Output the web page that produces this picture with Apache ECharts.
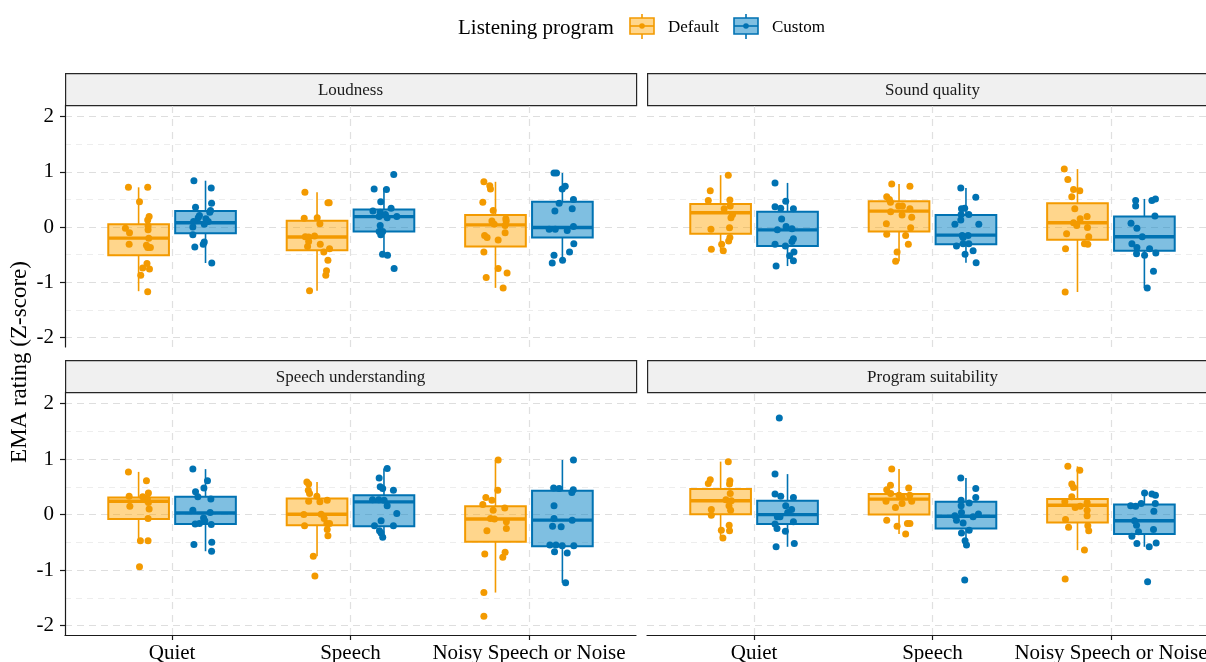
<!DOCTYPE html>
<html>
<head>
<meta charset="utf-8">
<script src="https://cdn.jsdelivr.net/npm/echarts@6/dist/echarts.min.js"></script>
<style>
  html, body { margin: 0; padding: 0; background: #ffffff; }
  #chart { width: 1206px; height: 662px; }
</style>
</head>
<body>
<div id="chart"></div>
<script>
// ---- data -------------------------------------------------------------
const categories = ['Quiet', 'Speech', 'Noisy Speech or Noise'];
const groups = ['Default', 'Custom'];
const facets = ['Loudness', 'Sound quality', 'Speech understanding', 'Program suitability'];
const yTicks = [-2, -1, 0, 1, 2];
const yMinorTicks = [-1.5, -0.5, 0.5, 1.5];

// box statistics per category: [lower whisker, Q1, median, Q3, upper whisker]
const loudnessDefaultBox = [[-1.16, -0.51, -0.20, 0.05, 0.72], [-1.15, -0.42, -0.18, 0.115, 0.63], [-1.10, -0.35, 0.04, 0.22, 0.82]];
const loudnessCustomBox = [[-0.65, -0.11, 0.08, 0.29, 0.84], [-0.51, -0.08, 0.19, 0.32, 0.71], [-0.65, -0.19, -0.006, 0.46, 0.98]];
const soundDefaultBox = [[-0.43, -0.12, 0.26, 0.42, 0.94], [-0.62, -0.08, 0.29, 0.47, 0.78], [-1.175, -0.23, 0.08, 0.43, 1.05]];
const soundCustomBox = [[-0.705, -0.34, -0.05, 0.28, 0.80], [-0.645, -0.31, -0.145, 0.22, 0.71], [-1.10, -0.43, -0.175, 0.19, 0.51]];
const speechDefaultBox = [[-0.47, -0.08, 0.24, 0.31, 0.77], [-0.75, -0.19, 0.006, 0.29, 0.59], [-1.405, -0.49, -0.08, 0.15, 0.985]];
const speechCustomBox = [[-0.66, -0.17, 0.03, 0.32, 0.82], [-0.41, -0.21, 0.23, 0.35, 0.83], [-1.23, -0.57, -0.10, 0.43, 0.985]];
const suitDefaultBox = [[-0.42, 0.006, 0.25, 0.46, 0.955], [-0.35, 0.0, 0.28, 0.37, 0.82], [-0.64, -0.14, 0.17, 0.28, 0.87]];
const suitCustomBox = [[-0.58, -0.17, 0.0, 0.25, 0.73], [-0.55, -0.25, -0.03, 0.23, 0.66], [-0.58, -0.35, -0.11, 0.18, 0.39]];

// individual ratings per category: [horizontal jitter (axis units), rating]
const loudnessDefaultPts = [
  [[-0.057,0.72],[0.051,0.72],[0.005,0.46],[0.059,0.19],[0.051,0.13],[0.053,0.02],[-0.074,-0.02],[-0.051,-0.10],[0.053,-0.05],[0.057,-0.20],[-0.053,-0.31],[0.044,-0.33],[0.051,-0.37],[0.066,-0.37],[0.047,-0.66],[0.023,-0.74],[0.061,-0.76],[0.012,-0.87],[0.051,-1.17]],
  [[-0.068,0.63],[0.061,0.44],[0.068,0.44],[-0.072,0.16],[0.001,0.17],[0.016,0.06],[-0.066,-0.175],[-0.047,-0.18],[-0.014,-0.16],[-0.047,-0.26],[0.018,-0.31],[-0.053,-0.35],[0.07,-0.39],[0.038,-0.45],[0.061,-0.60],[0.053,-0.79],[0.049,-0.87],[-0.042,-1.15]],
  [[-0.065,0.82],[-0.032,0.75],[-0.028,0.69],[-0.071,0.45],[-0.013,0.30],[-0.02,0.11],[-0.007,0.05],[0.058,0.15],[0.06,0.11],[0.054,0.03],[-0.061,-0.15],[-0.047,-0.19],[0.015,-0.235],[0.054,-0.10],[-0.065,-0.45],[0.015,-0.75],[0.065,-0.83],[-0.052,-0.91],[0.043,-1.10]]
];
const loudnessCustomPts = [
  [[-0.065,0.84],[0.032,0.71],[0.034,0.43],[-0.056,0.36],[0.028,0.30],[0.024,0.27],[-0.034,0.21],[-0.041,0.17],[0.002,0.15],[0.015,0.10],[-0.067,0.10],[-0.007,0.05],[-0.071,0.0],[-0.071,-0.14],[-0.007,-0.27],[-0.013,-0.31],[-0.06,-0.36],[0.035,-0.65]],
  [[0.055,0.95],[-0.055,0.69],[0.014,0.68],[-0.018,0.46],[0.04,0.34],[-0.062,0.29],[-0.021,0.27],[0.008,0.23],[-0.027,0.19],[0.018,0.17],[0.072,0.19],[-0.021,0.03],[-0.027,-0.08],[-0.007,-0.08],[-0.018,-0.14],[-0.008,-0.49],[0.02,-0.51],[0.057,-0.75]],
  [[-0.047,0.98],[-0.033,0.98],[-0.001,0.69],[0.016,0.74],[0.062,0.50],[-0.018,0.43],[-0.042,0.29],[0.055,0.33],[-0.074,-0.04],[-0.04,-0.04],[0.027,-0.06],[0.062,0.01],[0.064,-0.30],[0.04,-0.45],[-0.047,-0.51],[0.001,-0.60],[-0.057,-0.65]]
];
const soundDefaultPts = [
  [[0.043,0.94],[-0.058,0.66],[-0.069,0.48],[0.052,0.49],[0.02,0.33],[0.054,0.38],[0.067,0.23],[0.058,0.17],[-0.054,-0.04],[0.05,-0.01],[0.052,-0.19],[0.045,-0.25],[0.006,-0.31],[-0.052,-0.40],[0.015,-0.43]],
  [[-0.041,0.78],[0.061,0.74],[-0.069,0.55],[-0.048,0.45],[-0.054,0.50],[-0.002,0.38],[0.019,0.38],[0.061,0.33],[-0.047,0.28],[0.017,0.22],[0.071,0.18],[-0.071,0.06],[0.065,-0.01],[-0.069,-0.13],[0.037,-0.15],[0.052,-0.31],[-0.011,-0.45],[-0.019,-0.62]],
  [[-0.074,1.05],[-0.054,0.86],[-0.022,0.68],[0.013,0.66],[-0.032,0.55],[-0.015,0.33],[0.015,0.15],[0.054,0.19],[-0.022,0.08],[-0.004,0.03],[0.056,-0.006],[-0.061,-0.12],[0.063,-0.175],[0.039,-0.30],[0.058,-0.31],[-0.067,-0.39],[-0.069,-1.175]]
];
const soundCustomPts = [
  [[-0.07,0.80],[-0.01,0.47],[-0.07,0.37],[-0.038,0.34],[0.033,0.33],[-0.033,0.145],[-0.008,0.01],[-0.057,-0.05],[0.025,-0.03],[0.033,-0.21],[0.025,-0.26],[-0.07,-0.31],[-0.012,-0.34],[0.036,-0.45],[0.012,-0.52],[0.033,-0.61],[-0.064,-0.705]],
  [[-0.029,0.71],[0.055,0.54],[-0.025,0.33],[-0.007,0.34],[-0.027,0.23],[0.016,0.23],[-0.029,0.13],[-0.062,0.05],[0.072,0.05],[-0.021,-0.15],[0.012,-0.15],[-0.016,-0.19],[-0.053,-0.34],[-0.016,-0.30],[0.016,-0.30],[0.04,-0.43],[-0.005,-0.49],[0.057,-0.645]],
  [[-0.049,0.48],[0.042,0.48],[0.062,0.51],[-0.049,0.38],[0.059,0.20],[-0.075,0.07],[-0.042,-0.02],[-0.012,-0.175],[-0.07,-0.30],[-0.042,-0.37],[0.029,-0.39],[-0.044,-0.48],[0.001,-0.51],[0.064,-0.47],[0.051,-0.80],[0.016,-1.10]]
];
const speechDefaultPts = [
  [[-0.057,0.77],[0.044,0.61],[0.055,0.39],[-0.053,0.33],[0.023,0.32],[0.049,0.29],[0.045,0.26],[0.055,0.22],[-0.049,0.15],[0.059,0.10],[0.053,-0.07],[0.01,-0.47],[0.053,-0.47],[0.005,-0.94]],
  [[-0.057,0.59],[-0.047,0.55],[-0.049,0.44],[-0.042,0.38],[-0.001,0.33],[-0.047,0.24],[0.016,0.23],[0.057,0.26],[-0.074,0.0],[0.023,0.006],[0.04,-0.07],[0.055,-0.16],[0.07,-0.16],[-0.07,-0.20],[0.057,-0.27],[0.061,-0.38],[-0.021,-0.75],[-0.012,-1.105]],
  [[0.015,0.985],[0.013,0.44],[-0.054,0.31],[-0.02,0.26],[-0.071,0.18],[-0.013,0.08],[0.052,0.12],[-0.028,-0.07],[-0.006,-0.08],[0.061,-0.13],[0.061,-0.25],[-0.048,-0.29],[-0.06,-0.71],[0.054,-0.68],[0.041,-0.77],[-0.065,-1.405],[-0.065,-1.83]]
];
const speechCustomPts = [
  [[-0.071,0.82],[0.011,0.61],[-0.009,0.48],[-0.056,0.41],[-0.043,0.32],[0.03,0.28],[-0.071,0.08],[0.026,0.04],[-0.011,-0.06],[-0.004,-0.11],[-0.058,-0.17],[-0.034,-0.16],[0.032,-0.18],[-0.065,-0.54],[0.035,-0.50],[0.034,-0.66]],
  [[0.018,0.83],[-0.027,0.66],[-0.021,0.50],[-0.007,0.47],[0.053,0.44],[-0.064,0.27],[-0.029,0.27],[0.001,0.26],[0.018,0.16],[0.072,0.02],[-0.016,-0.11],[-0.053,-0.20],[0.053,-0.20],[-0.025,-0.29],[-0.016,-0.33],[-0.007,-0.41]],
  [[0.062,0.985],[-0.049,0.48],[-0.018,0.47],[0.061,0.45],[0.053,0.40],[-0.047,0.16],[-0.047,-0.07],[-0.007,-0.22],[-0.055,-0.21],[0.055,-0.10],[-0.07,-0.55],[-0.036,-0.55],[-0.001,-0.56],[0.064,-0.56],[-0.044,-0.67],[0.027,-0.69],[0.018,-1.23]]
];
const suitDefaultPts = [
  [[0.043,0.955],[-0.058,0.63],[-0.069,0.56],[0.052,0.61],[0.05,0.55],[0.054,0.38],[0.03,0.27],[0.06,0.25],[0.047,0.16],[0.056,0.08],[-0.052,0.09],[-0.052,-0.01],[0.048,-0.19],[0.004,-0.28],[0.05,-0.29],[0.013,-0.42]],
  [[-0.041,0.82],[-0.048,0.53],[-0.069,0.45],[0.054,0.48],[-0.047,0.38],[0,0.35],[0.017,0.32],[0.06,0.35],[-0.073,0.24],[0.071,0.24],[0.017,0.20],[-0.02,0.13],[-0.069,-0.10],[-0.011,-0.21],[0.047,-0.16],[0.061,-0.16],[0.037,-0.35]],
  [[-0.054,0.87],[0.013,0.80],[-0.032,0.55],[-0.022,0.49],[-0.032,0.32],[-0.071,0.23],[-0.013,0.13],[0.015,0.15],[0.054,0.22],[0.054,0.08],[0.054,-0.02],[-0.067,-0.09],[-0.05,-0.23],[0.058,-0.20],[0.063,-0.29],[0.039,-0.64],[-0.069,-1.16]]
];
const suitCustomPts = [
  [[-0.046,1.74],[-0.07,0.73],[-0.07,0.37],[-0.038,0.33],[0.033,0.31],[-0.01,0.16],[0.023,0.09],[0.001,0.04],[-0.042,-0.04],[-0.057,-0.04],[0.033,-0.13],[-0.07,-0.17],[-0.059,-0.25],[-0.012,-0.30],[0.038,-0.52],[-0.064,-0.58]],
  [[-0.029,0.66],[0.055,0.47],[0.055,0.31],[-0.027,0.26],[0.018,0.21],[-0.027,0.16],[-0.062,-0.02],[-0.025,0.04],[0.07,0.01],[0.04,-0.04],[-0.053,-0.10],[-0.016,-0.15],[0.018,-0.28],[-0.025,-0.33],[-0.005,-0.47],[0.003,-0.55],[-0.007,-1.18]],
  [[0.001,0.39],[0.042,0.37],[0.062,0.35],[-0.077,0.16],[-0.049,0.15],[-0.018,0.20],[0.061,0.20],[0.053,0.06],[-0.055,-0.11],[-0.044,-0.19],[-0.033,-0.31],[-0.07,-0.39],[0.051,-0.27],[-0.042,-0.52],[0.027,-0.58],[0.066,-0.51],[0.018,-1.21]]
];

// ---- layout & style ---------------------------------------------------
const boxesByFacet = [
  [loudnessDefaultBox, loudnessCustomBox],
  [soundDefaultBox, soundCustomBox],
  [speechDefaultBox, speechCustomBox],
  [suitDefaultBox, suitCustomBox]
];
const pointsByFacet = [
  [loudnessDefaultPts, loudnessCustomPts],
  [soundDefaultPts, soundCustomPts],
  [speechDefaultPts, speechCustomPts],
  [suitDefaultPts, suitCustomPts]
];

const FONT = '"Liberation Serif", "Times New Roman", serif';
const STROKE = ['#F39A00', '#0072B2'];
const FILL = ['rgba(255,165,0,0.45)', 'rgba(0,128,196,0.5)'];
const DODGE = [-0.1875, 0.1875];
const BOX_W = 0.34;
const Y_MIN = -2.17, Y_MAX = 2.21;

// facet panels: [left, top, width, height]
const panelRects = [
  [65, 105, 571, 242],
  [647, 105, 571, 242],
  [65, 392, 571, 243],
  [647, 392, 571, 243]
];
const STRIP_H = 32;

function boxRenderer(gi) {
  return function (params, api) {
    const x = api.value(0);
    const lo = api.value(1), q1 = api.value(2), md = api.value(3), q3 = api.value(4), hi = api.value(5);
    const tl = api.coord([x - BOX_W / 2, q3]);
    const br = api.coord([x + BOX_W / 2, q1]);
    const pHi = api.coord([x, hi]);
    const pLo = api.coord([x, lo]);
    const pMd = api.coord([x, md]);
    const stroke = STROKE[gi];
    return {
      type: 'group',
      children: [
        { type: 'line', shape: { x1: pHi[0], y1: pHi[1], x2: pHi[0], y2: tl[1] }, style: { stroke: stroke, lineWidth: 1.6 } },
        { type: 'line', shape: { x1: pLo[0], y1: br[1], x2: pLo[0], y2: pLo[1] }, style: { stroke: stroke, lineWidth: 1.6 } },
        { type: 'rect', shape: { x: tl[0], y: tl[1], width: br[0] - tl[0], height: br[1] - tl[1] }, style: { fill: FILL[gi], stroke: stroke, lineWidth: 2 } },
        { type: 'line', shape: { x1: tl[0], y1: pMd[1], x2: br[0], y2: pMd[1] }, style: { stroke: stroke, lineWidth: 3.4 } }
      ]
    };
  };
}

const grids = [], xAxes = [], yAxes = [], series = [], graphics = [];

panelRects.forEach(function (r, fi) {
  const isLeft = fi % 2 === 0;
  const isBottom = fi >= 2;
  grids.push({ left: r[0], top: r[1], width: r[2], height: r[3], outerBoundsMode: 'none', containLabel: false });
  xAxes.push({
    type: 'value', gridIndex: fi, min: 0.4, max: 3.6,
    axisLine: { show: isBottom, onZero: false, lineStyle: { color: '#1a1a1a', width: 1.2 } },
    axisTick: { show: isBottom, customValues: [1, 2, 3], length: 5, lineStyle: { color: '#1a1a1a', width: 1.2 } },
    axisLabel: {
      show: isBottom, customValues: [1, 2, 3], margin: 8,
      formatter: function (v) { return categories[Math.round(v) - 1] || ''; },
      fontFamily: FONT, fontSize: 21, color: '#000'
    },
    splitLine: { show: false }
  });
  yAxes.push({
    type: 'value', gridIndex: fi, min: Y_MIN, max: Y_MAX,
    axisLine: { show: isLeft, onZero: false, lineStyle: { color: '#1a1a1a', width: 1.2 } },
    axisTick: { show: isLeft, customValues: yTicks, length: 5, lineStyle: { color: '#1a1a1a', width: 1.2 } },
    axisLabel: { show: isLeft, customValues: yTicks, margin: 11, fontFamily: FONT, fontSize: 21, color: '#000' },
    splitLine: { show: false }
  });

  // dashed panel grid
  const gridLines = [];
  yMinorTicks.forEach(function (v) { gridLines.push({ yAxis: v, lineStyle: { color: '#EDEDED', width: 1, type: [6, 5] } }); });
  yTicks.forEach(function (v) { gridLines.push({ yAxis: v, lineStyle: { color: '#DEDEDE', width: 1.2, type: [7, 5] } }); });
  categories.forEach(function (c, ci) { gridLines.push({ xAxis: ci + 1, lineStyle: { color: '#E0E0E0', width: 1.2, type: [7, 6] } }); });
  series.push({
    type: 'line', xAxisIndex: fi, yAxisIndex: fi, data: [], silent: true, z: 0,
    markLine: { silent: true, symbol: 'none', z: 0, label: { show: false }, emphasis: { disabled: true }, animation: false, data: gridLines }
  });

  groups.forEach(function (g, gi) {
    const boxData = boxesByFacet[fi][gi].map(function (b, ci) { return [ci + 1 + DODGE[gi]].concat(b); });
    series.push({
      type: 'custom', name: g, xAxisIndex: fi, yAxisIndex: fi, z: 2,
      renderItem: boxRenderer(gi),
      encode: { x: 0, y: [1, 2, 3, 4, 5] },
      data: boxData, animation: false, silent: true
    });
  });
  groups.forEach(function (g, gi) {
    const pts = [];
    pointsByFacet[fi][gi].forEach(function (list, ci) {
      list.forEach(function (p) { pts.push([ci + 1 + DODGE[gi] + p[0], p[1]]); });
    });
    series.push({
      type: 'scatter', name: g, xAxisIndex: fi, yAxisIndex: fi, z: 3,
      symbol: 'circle', symbolSize: 7, data: pts,
      itemStyle: { color: STROKE[gi], opacity: 1 }, animation: false, silent: true
    });
  });

  // facet strip
  graphics.push({
    type: 'rect', left: r[0], top: r[1] - STRIP_H, silent: true,
    shape: { x: 0, y: 0, width: r[2], height: STRIP_H },
    style: { fill: '#F0F0F0', stroke: '#262626', lineWidth: 1.2 }
  });
  graphics.push({
    type: 'text', silent: true,
    x: r[0] + r[2] / 2, y: r[1] - STRIP_H / 2 + 2,
    style: { text: facets[fi], font: '17px ' + FONT, fill: '#1a1a1a', textAlign: 'center', textVerticalAlign: 'middle' }
  });
});

// y-axis title
graphics.push({
  type: 'text', silent: true, x: 20, y: 362, rotation: Math.PI / 2,
  style: { text: 'EMA rating (Z-score)', font: '23px ' + FONT, fill: '#000', textAlign: 'center', textVerticalAlign: 'middle' }
});

// legend
graphics.push({
  type: 'text', silent: true, x: 458, y: 28,
  style: { text: 'Listening program', font: '21px ' + FONT, fill: '#000', textAlign: 'left', textVerticalAlign: 'middle' }
});
[[630, 668], [734, 772]].forEach(function (pos, gi) {
  const kx = pos[0];
  graphics.push({
    type: 'group', silent: true,
    children: [
      { type: 'line', shape: { x1: kx + 12, y1: 14, x2: kx + 12, y2: 39 }, style: { stroke: STROKE[gi], lineWidth: 1.6 } },
      { type: 'rect', shape: { x: kx, y: 18, width: 24, height: 16 }, style: { fill: '#fff', stroke: null } },
      { type: 'rect', shape: { x: kx, y: 18, width: 24, height: 16 }, style: { fill: FILL[gi], stroke: STROKE[gi], lineWidth: 1.6 } },
      { type: 'line', shape: { x1: kx, y1: 26, x2: kx + 24, y2: 26 }, style: { stroke: STROKE[gi], lineWidth: 1.6 } },
      { type: 'circle', shape: { cx: kx + 12, cy: 26, r: 2.8 }, style: { fill: STROKE[gi] } }
    ]
  });
  graphics.push({
    type: 'text', silent: true, x: pos[1], y: 28,
    style: { text: groups[gi], font: '17px ' + FONT, fill: '#000', textAlign: 'left', textVerticalAlign: 'middle' }
  });
});

const chart = echarts.init(document.getElementById('chart'), null, { renderer: 'canvas' });
chart.setOption({
  backgroundColor: '#ffffff',
  animation: false,
  textStyle: { fontFamily: FONT },
  grid: grids,
  xAxis: xAxes,
  yAxis: yAxes,
  series: series,
  graphic: graphics
});
</script>
</body>
</html>
